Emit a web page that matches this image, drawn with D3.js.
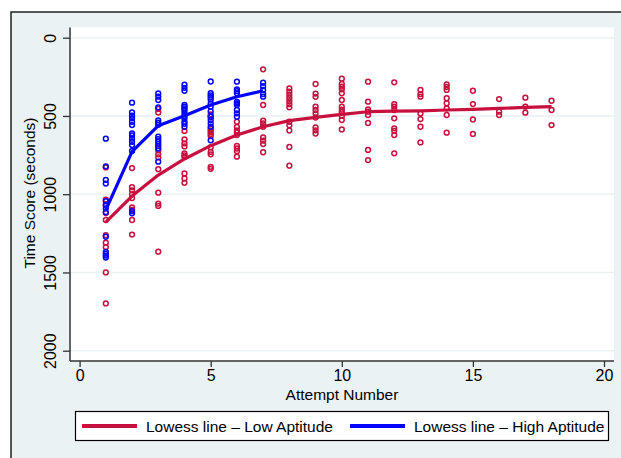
<!DOCTYPE html>
<html>
<head>
<meta charset="utf-8">
<script src="https://cdn.jsdelivr.net/npm/d3@7"></script>
<style>
  body { margin: 0; background: #fff; }
  text { font-family: "Liberation Sans", Arial, sans-serif; fill: #000; }
</style>
</head>
<body>
<script>
// chart data
const attempts = [1, 2, 3, 4, 5, 6, 7, 8, 9, 10, 11, 12, 13, 14, 15, 16, 17, 18];

// time scores per attempt, low aptitude group
const lowTimes = [
    [829, 1035, 1070, 1120, 1165, 1262, 1310, 1338, 1500, 1698],
    [833, 955, 975, 1000, 1025, 1085, 1100, 1165, 1258],
    [455, 478, 720, 745, 765, 840, 990, 1060, 1075, 1367],
    [596, 650, 675, 695, 740, 752, 762, 867, 899, 927],
    [490, 505, 580, 592, 603, 615, 628, 700, 730, 745, 825, 838],
    [537, 570, 592, 605, 622, 692, 708, 725, 760],
    [202, 430, 530, 548, 569, 637, 658, 680, 732],
    [324, 345, 365, 385, 405, 425, 445, 537, 560, 593, 698, 818],
    [296, 357, 378, 441, 462, 483, 510, 573, 592, 612],
    [262, 296, 313, 330, 355, 398, 441, 460, 475, 500, 526, 586],
    [281, 409, 458, 473, 494, 545, 717, 782],
    [285, 424, 440, 462, 515, 579, 595, 622, 739],
    [334, 360, 377, 484, 520, 569, 669],
    [298, 315, 334, 387, 419, 451, 494, 607],
    [339, 424, 522, 615],
    [392, 473, 494],
    [383, 441, 479],
    [403, 462, 558]
];

// time scores per attempt, high aptitude group (attempts 1-7)
const highTimes = [
    [645, 822, 908, 932, 1045, 1068, 1090, 1115, 1272, 1368, 1380, 1392, 1405],
    [415, 478, 498, 515, 537, 558, 611, 625, 645, 665, 686, 724, 1108, 1122],
    [356, 377, 398, 445, 528, 543, 556, 633, 648, 663, 678, 693, 708, 792],
    [300, 320, 339, 430, 441, 452, 465, 483, 500, 515, 537, 550, 569],
    [280, 355, 368, 380, 395, 420, 441, 470, 505, 526, 547, 569, 656],
    [281, 330, 342, 355, 410, 420, 430, 462, 483, 505],
    [288, 310, 334, 360, 377]
];

// lowess fitted values
const lowFit = [1178, 1012, 878, 775, 690, 622, 569, 530, 509, 490, 473, 469, 467, 462, 458, 452, 445, 440];
const highFit = [1100, 728, 562, 498, 430, 377, 339];

const xTicks = [0, 5, 10, 15, 20];
const yTicks = [0, 500, 1000, 1500, 2000];
const legendLabels = ["Lowess line \u2013 Low Aptitude", "Lowess line \u2013 High Aptitude"];

const WIDTH = 621;
const HEIGHT = 458;
const RED = "#c8103e";
const BLUE = "#0000ff";
const BG = "#eaf2f3";
const FONT = "Liberation Sans, Arial, sans-serif";

const svg = d3.select("body").append("svg")
    .attr("width", WIDTH)
    .attr("height", HEIGHT);

// outer graph region
svg.append("rect")
    .attr("x", 11).attr("y", 12)
    .attr("width", WIDTH).attr("height", HEIGHT)
    .attr("fill", BG)
    .attr("stroke", "#222").attr("stroke-width", 1.5);

// plot region
svg.append("rect")
    .attr("x", 70).attr("y", 27.5)
    .attr("width", 544).attr("height", 333.5)
    .attr("fill", "#fff");

const xScale = d3.scaleLinear().domain([0, 20]).range([79.6, 604]);
const yScale = d3.scaleLinear().domain([0, 2000]).range([37.7, 350.7]);

// gridlines
svg.append("g")
    .selectAll("line")
    .data(yTicks)
    .join("line")
    .attr("x1", 70).attr("x2", 614)
    .attr("y1", d => yScale(d)).attr("y2", d => yScale(d))
    .attr("stroke", BG).attr("stroke-width", 1.6);

// axes
const yAxis = svg.append("g")
    .attr("transform", "translate(70,0)")
    .call(d3.axisLeft(yScale).tickValues(yTicks).tickFormat(d3.format("d"))
        .tickSize(7).tickPadding(0).tickSizeOuter(0));
yAxis.select(".domain").remove();
yAxis.append("line")
    .attr("x1", 0).attr("x2", 0).attr("y1", 27.5).attr("y2", 361)
    .attr("stroke", "#333").attr("stroke-width", 1.5);
yAxis.selectAll(".tick line").attr("stroke", "#333").attr("stroke-width", 1.3);
yAxis.selectAll(".tick text")
    .attr("x", 0).attr("dy", 0)
    .attr("transform", "translate(-14,0) rotate(-90)")
    .attr("text-anchor", "middle")
    .style("font-size", "16px")
    .style("font-family", FONT);

const xAxis = svg.append("g")
    .attr("transform", "translate(0,361)")
    .call(d3.axisBottom(xScale).tickValues(xTicks).tickSize(6).tickPadding(3).tickSizeOuter(0));
xAxis.select(".domain").remove();
xAxis.append("line")
    .attr("x1", 70).attr("x2", 614).attr("y1", 0).attr("y2", 0)
    .attr("stroke", "#333").attr("stroke-width", 1.5);
xAxis.selectAll(".tick line").attr("stroke", "#333").attr("stroke-width", 1.3);
xAxis.selectAll(".tick text")
    .style("font-size", "16px")
    .style("font-family", FONT);

// axis titles
svg.append("text")
    .attr("x", 342).attr("y", 400)
    .attr("text-anchor", "middle")
    .style("font-size", "15.5px")
    .text("Attempt Number");

svg.append("text")
    .attr("transform", "translate(35,193) rotate(-90)")
    .attr("text-anchor", "middle")
    .style("font-size", "15.5px")
    .text("Time Score (seconds)");

// scatter points
const flatten = (groups) => groups.flatMap((vals, i) => vals.map(v => ({ x: attempts[i], y: v })));

const drawPoints = (points, color) => {
    svg.append("g")
        .selectAll("circle")
        .data(points)
        .join("circle")
        .attr("cx", d => xScale(d.x))
        .attr("cy", d => yScale(d.y))
        .attr("r", 2.4)
        .attr("fill", "none")
        .attr("stroke", color)
        .attr("stroke-width", 1.5);
};

drawPoints(flatten(lowTimes), RED);
drawPoints(flatten(highTimes), BLUE);

// lowess lines
const line = d3.line()
    .x((d, i) => xScale(attempts[i]))
    .y(d => yScale(d));

svg.append("path")
    .datum(lowFit)
    .attr("fill", "none")
    .attr("stroke", RED)
    .attr("stroke-width", 3.2)
    .attr("stroke-linejoin", "round")
    .attr("d", line);

svg.append("path")
    .datum(highFit)
    .attr("fill", "none")
    .attr("stroke", BLUE)
    .attr("stroke-width", 3.2)
    .attr("stroke-linejoin", "round")
    .attr("d", line);

// legend
const legend = svg.append("g");
legend.append("rect")
    .attr("x", 75.5).attr("y", 411.5)
    .attr("width", 533).attr("height", 29)
    .attr("fill", "#fff")
    .attr("stroke", "#000").attr("stroke-width", 1.2);

const legendItems = [
    { color: RED, label: legendLabels[0], x: 82 },
    { color: BLUE, label: legendLabels[1], x: 350 }
];

legendItems.forEach(item => {
    legend.append("line")
        .attr("x1", item.x).attr("x2", item.x + 55)
        .attr("y1", 426).attr("y2", 426)
        .attr("stroke", item.color).attr("stroke-width", 4);
    legend.append("text")
        .attr("x", item.x + 64).attr("y", 431.5)
        .style("font-size", "15.5px")
        .text(item.label);
});
</script>
</body>
</html>
